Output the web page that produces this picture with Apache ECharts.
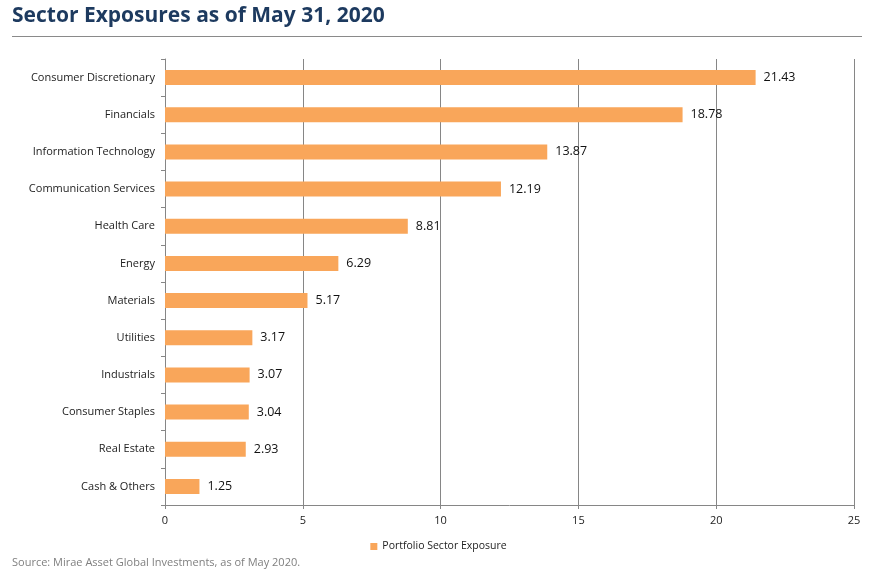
<!DOCTYPE html>
<html>
<head>
<meta charset="utf-8">
<script src="https://cdn.jsdelivr.net/npm/echarts@6/dist/echarts.min.js"></script>
<style>html,body{margin:0;padding:0;background:#fff;}#c{width:877px;height:583px;}</style>
</head>
<body>
<div id="c"></div>
<script>
const categories = ["Consumer Discretionary","Financials","Information Technology","Communication Services","Health Care","Energy","Materials","Utilities","Industrials","Consumer Staples","Real Estate","Cash & Others"];
const values = [21.43,18.78,13.87,12.19,8.81,6.29,5.17,3.17,3.07,3.04,2.93,1.25];
const xTicks = [0,5,10,15,20,25];
const seriesName = "Portfolio Sector Exposure";

const chart = echarts.init(document.getElementById('c'));
chart.setOption({
  animation: false,
  textStyle: {fontFamily: "Open Sans"},
  title: {
    text: "Sector Exposures as of May 31, 2020",
    left: 7, top: 1,
    textStyle: {fontFamily: "Open Sans", fontWeight: "bold", fontSize: 21, color: "#1d3a5f"}
  },
  graphic: [
    {type: "line", shape: {x1: 12, y1: 36.5, x2: 862, y2: 36.5}, style: {stroke: "#8a8a8a", lineWidth: 1}},
    {type: "text", left: 12, top: 557, style: {text: "Source: Mirae Asset Global Investments, as of May 2020.", fill: "#7f7f7f", font: "11px 'Open Sans'"}}
  ],
  legend: {
    data: [seriesName], bottom: 26, left: "center",
    itemWidth: 7, itemHeight: 7, itemGap: 4,
    icon: "rect",
    textStyle: {fontSize: 10.5, color: "#222", fontFamily: "Open Sans"}
  },
  grid: {left: 165, right: 23, top: 59, bottom: 78},
  xAxis: {
    type: "value", min: 0, max: 25, interval: 5,
    axisLine: {show: true, lineStyle: {color: "#868686"}},
    axisTick: {show: true, length: 4, lineStyle: {color: "#868686"}},
    axisLabel: {color: "#222", fontSize: 11, margin: 10, formatter: v => xTicks.includes(v) ? String(v) : ""},
    splitLine: {show: true, lineStyle: {color: "#868686", width: 1}}
  },
  yAxis: {
    type: "category", data: categories, inverse: true,
    axisLine: {show: true, lineStyle: {color: "#868686"}},
    axisTick: {show: true, length: 4, lineStyle: {color: "#868686"}},
    axisLabel: {color: "#222", fontSize: 11, margin: 10}
  },
  series: [{
    name: seriesName, type: "bar", data: values,
    barWidth: 15,
    itemStyle: {color: "#f9a65a"},
    label: {show: true, position: "right", distance: 8, color: "#111", fontSize: 12.5, formatter: p => p.value.toFixed(2)}
  }]
});
</script>
</body>
</html>
